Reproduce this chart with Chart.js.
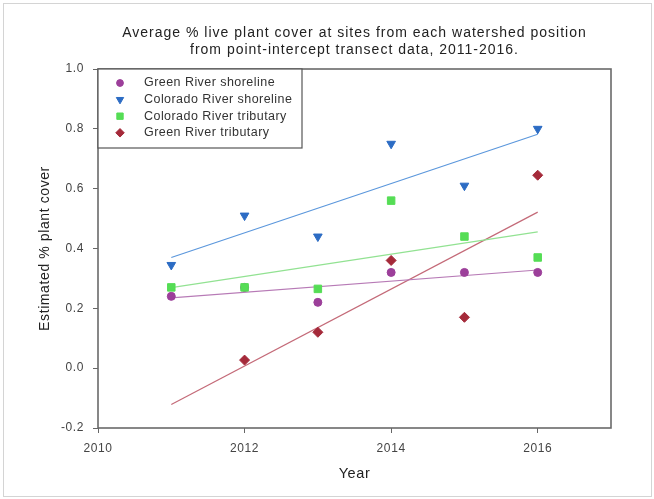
<!DOCTYPE html>
<html><head><meta charset="utf-8">
<script src="https://cdn.jsdelivr.net/npm/chart.js@4"></script>
<style>html,body{margin:0;padding:0;background:#fff}#wrap{width:654px;height:499px;position:relative}</style>
</head><body><div id="wrap"><canvas id="c" width="654" height="499"></canvas></div>
<script>
// ---- data ----
const years = [2011, 2012, 2013, 2014, 2015, 2016];
const greenRiverShoreline = [0.24, 0.27, 0.22, 0.32, 0.32, 0.32];
const coloradoRiverShoreline = [0.345, 0.51, 0.44, 0.75, 0.61, 0.80];
const coloradoRiverTributary = [0.27, 0.27, 0.265, 0.56, 0.44, 0.37];
const greenRiverTributary = [null, 0.027, 0.12, 0.36, 0.17, 0.645];
const seriesNames = ['Green River shoreline', 'Colorado River shoreline', 'Colorado River tributary', 'Green River tributary'];
const xTicks = [2010, 2012, 2014, 2016];
const yTicks = [-0.2, 0.0, 0.2, 0.4, 0.6, 0.8, 1.0];
const titleLines = ['Average % live plant cover at sites from each watershed position', 'from point-intercept transect data, 2011-2016.'];
const xTitle = 'Year';
const yTitle = 'Estimated % plant cover';

const FONT = '"Liberation Sans", Arial, sans-serif';
Chart.defaults.font.family = FONT;

function points(vals) {
  return years.map((x, i) => ({x: x, y: vals[i]})).filter(p => p.y !== null);
}
// least-squares trend line, drawn across the sampled years
function trend(vals) {
  const p = points(vals);
  const n = p.length;
  const mx = p.reduce((s, q) => s + q.x, 0) / n;
  const my = p.reduce((s, q) => s + q.y, 0) / n;
  let sxy = 0, sxx = 0;
  p.forEach(q => { sxy += (q.x - mx) * (q.y - my); sxx += (q.x - mx) * (q.x - mx); });
  const b = sxy / sxx, a = my - b * mx;
  const x0 = years[0], x1 = years[years.length - 1];
  return [{x: x0, y: a + b * x0}, {x: x1, y: a + b * x1}];
}

const styles = [
  {vals: greenRiverShoreline, color: '#9c3f9a', line: '#b77ab6', pointStyle: 'circle', radius: 4, rotation: 0, order: 4},
  {vals: coloradoRiverShoreline, color: '#2c6cc4', line: '#5b97dc', pointStyle: 'triangle', radius: 5, rotation: 180, order: 3},
  {vals: coloradoRiverTributary, color: '#55dd55', line: '#92e292', pointStyle: 'rect', radius: 5.3, rotation: 0, order: 2},
  {vals: greenRiverTributary, color: '#a52a3a', line: '#c46a78', pointStyle: 'rectRot', radius: 5, rotation: 0, order: 1}
];

const datasets = [];
styles.forEach((s, i) => {
  datasets.push({
    label: seriesNames[i], data: points(s.vals), pointStyle: s.pointStyle, pointRadius: s.radius,
    pointRotation: s.rotation, rotation: s.rotation, backgroundColor: s.color, borderColor: s.color,
    pointBorderWidth: 1, showLine: false, order: s.order
  });
});
styles.forEach((s, i) => {
  datasets.push({
    type: 'line', isTrend: true, label: seriesNames[i] + ' fit', data: trend(s.vals),
    borderColor: s.line, borderWidth: 1.2, pointRadius: 0, fill: false, order: 10 + i, tension: 0
  });
});

const framePlugin = {
  id: 'frame',
  beforeDraw(chart) {
    const ctx = chart.ctx;
    ctx.fillStyle = '#fff';
    ctx.fillRect(0, 0, chart.width, chart.height);
    ctx.strokeStyle = '#d4d4d4'; ctx.lineWidth = 1;
    ctx.strokeRect(3.5, 3.5, chart.width - 6, chart.height - 6);
    // the reference text is set a little wider than plain Arial
    ctx.letterSpacing = '0.6px';
    const tb = chart.titleBlock;
    if (tb && !tb._spaced) {
      const orig = tb.draw;
      tb.draw = function () {
        const c = this.ctx, old = c.letterSpacing;
        c.letterSpacing = '1px';
        orig.apply(this, arguments);
        c.letterSpacing = old;
      };
      tb._spaced = true;
    }
  },
  afterDatasetsDraw(chart) {
    const {ctx, chartArea: ca} = chart;
    ctx.save();
    ctx.strokeStyle = '#6a6a6a'; ctx.lineWidth = 1.6;
    ctx.strokeRect(ca.left, ca.top, ca.right - ca.left, ca.bottom - ca.top);
    ctx.restore();
  }
};

const legendPlugin = {
  id: 'boxLegend',
  afterDraw(chart) {
    const {ctx, chartArea: ca} = chart;
    const items = chart.data.datasets.filter(d => !d.isTrend);
    const w = 204, h = 79, rowH = 16.6;
    ctx.save();
    ctx.fillStyle = '#fff';
    ctx.fillRect(ca.left, ca.top, w, h);
    ctx.strokeStyle = '#555'; ctx.lineWidth = 1.2;
    ctx.strokeRect(ca.left, ca.top, w, h);
    items.forEach((d, i) => {
      const y = ca.top + 14 + i * rowH;
      ctx.fillStyle = d.backgroundColor; ctx.strokeStyle = d.borderColor; ctx.lineWidth = 1;
      Chart.helpers.drawPoint(ctx, {pointStyle: d.pointStyle, radius: d.pointRadius * 0.85, rotation: d.rotation, borderWidth: 1}, ca.left + 22, y);
      ctx.fillStyle = '#333';
      ctx.font = '12.5px ' + FONT;
      ctx.letterSpacing = '0.45px';
      ctx.textBaseline = 'middle'; ctx.textAlign = 'left';
      ctx.fillText(d.label, ca.left + 46, y);
    });
    ctx.restore();
  }
};

const chart = new Chart(document.getElementById('c'), {
  type: 'scatter',
  data: {datasets: datasets},
  options: {
    responsive: false, animation: false, devicePixelRatio: 1,
    layout: {padding: {left: 0, right: 43, top: 0, bottom: 0}},
    plugins: {
      legend: {display: false},
      tooltip: {enabled: false},
      title: {
        display: true, text: titleLines, fullSize: false, color: '#222',
        font: {size: 14, weight: 'normal', lineHeight: 1.2},
        padding: {top: 24.6, bottom: 10.8}
      }
    },
    scales: {
      x: {
        type: 'linear', min: 2010, max: 2017,
        afterFit: s => { s.height = 71; },
        afterBuildTicks: s => { s.ticks = xTicks.map(v => ({value: v})); },
        ticks: {color: '#444', font: {size: 12}, padding: 8, callback: v => String(v), maxRotation: 0, autoSkip: false},
        grid: {display: true, drawOnChartArea: false, drawTicks: true, tickLength: 5, color: '#666'},
        border: {display: false},
        title: {display: true, text: xTitle, color: '#222', font: {size: 14.5}, padding: {top: 0, bottom: 16.3}}
      },
      y: {
        type: 'linear', min: -0.2, max: 1.0,
        afterFit: s => { s.width = 98; },
        afterBuildTicks: s => { s.ticks = yTicks.map(v => ({value: v})); },
        ticks: {color: '#444', font: {size: 12}, padding: 9, callback: v => Number(v).toFixed(1), autoSkip: false},
        grid: {display: true, drawOnChartArea: false, drawTicks: true, tickLength: 5, color: '#666'},
        border: {display: false},
        title: {display: true, text: yTitle, color: '#222', font: {size: 14}, padding: {top: 36.3, bottom: 0}}
      }
    }
  },
  plugins: [framePlugin, legendPlugin]
});
chart.draw();
</script>
</body></html>
